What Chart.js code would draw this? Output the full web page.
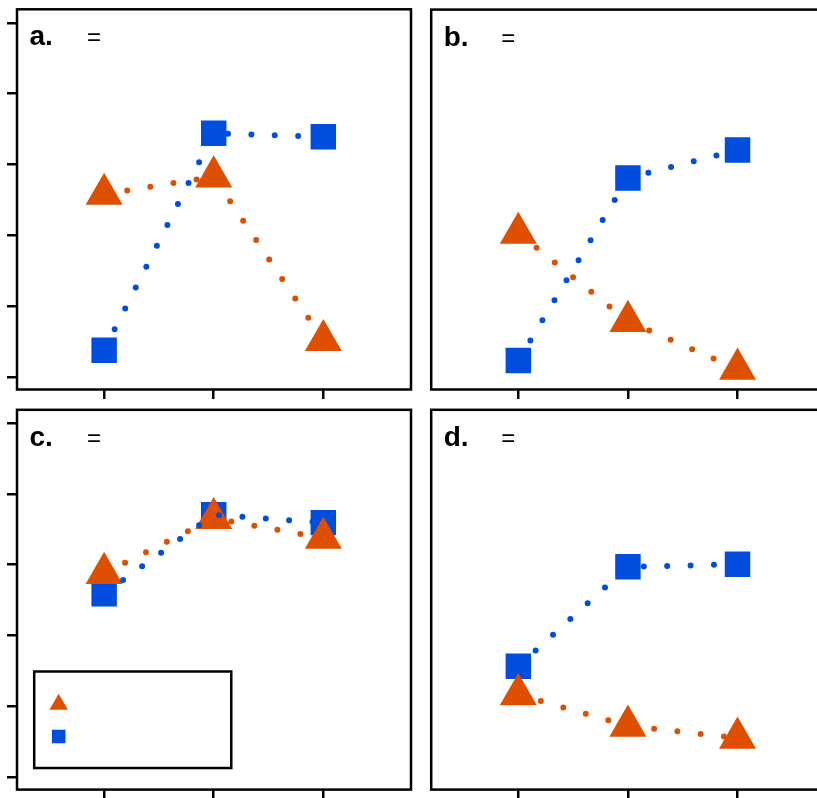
<!DOCTYPE html>
<html>
<head>
<meta charset="utf-8">
<script src="https://cdn.jsdelivr.net/npm/chart.js@4.4.1/dist/chart.umd.min.js"></script>
<style>
  html, body { margin: 0; padding: 0; background: #fff; }
  #wrap { position: relative; width: 817px; height: 798px; overflow: hidden; background: #fff; }
  canvas { position: absolute; }
</style>
</head>
<body>
<div id="wrap">
  <canvas id="pa" width="420" height="400" style="left:0;top:0"></canvas>
  <canvas id="pb" width="420" height="400" style="left:420px;top:0"></canvas>
  <canvas id="pc" width="420" height="398" style="left:0;top:400px"></canvas>
  <canvas id="pd" width="420" height="398" style="left:420px;top:400px"></canvas>
</div>
<script>
// Three conditions on the x axis, proportions on the y axis
const categories = [1, 2, 3];
const yTicks = [0, 0.2, 0.4, 0.6, 0.8, 1.0];

// Panel values: triangles (orange) and squares (blue)
const triA = [0.516, 0.565, 0.103];
const sqA  = [0.075, 0.688, 0.678];
const triB = [0.406, 0.157, 0.022];
const sqB  = [0.046, 0.562, 0.641];
const triC = [0.576, 0.731, 0.675];
const sqC  = [0.518, 0.741, 0.719];
const triD = [0.233, 0.144, 0.110];
const sqD  = [0.313, 0.594, 0.601];

const panelLabels = ['a.', 'b.', 'c.', 'd.'];

const ORANGE = '#DE5000';
const BLUE = '#004DDE';

const toXY = vals => vals.map((v, i) => ({ x: categories[i], y: v }));

// Box around the plot region, panel letter and the "=" of the heading
const framePlugin = {
  id: 'frame',
  afterDraw(chart, args, opts) {
    const { ctx, chartArea: a } = chart;
    ctx.save();
    ctx.strokeStyle = '#000';
    ctx.lineWidth = 2.5;
    ctx.strokeRect(a.left, a.top, a.right - a.left, a.bottom - a.top);
    ctx.fillStyle = '#000';
    ctx.textBaseline = 'alphabetic';
    ctx.font = 'bold 28px "Liberation Sans", Arial, sans-serif';
    ctx.fillText(opts.label, a.left + 12.5, a.top + 36);
    ctx.font = '24px "Liberation Sans", Arial, sans-serif';
    ctx.fillText('=', a.left + 70, a.top + 36);
    if (opts.legend) {
      // boxed key in the lower left
      const lx = chart.scales.x.getPixelForValue(opts.legend.x0);
      const ly = chart.scales.y.getPixelForValue(opts.legend.y1);
      const rx = chart.scales.x.getPixelForValue(opts.legend.x1);
      const ry = chart.scales.y.getPixelForValue(opts.legend.y0);
      ctx.lineWidth = 2.5;
      ctx.strokeRect(lx, ly, rx - lx, ry - ly);
      const items = [
        { style: 'triangle', color: ORANGE, radius: 10.7 },
        { style: 'rect', color: BLUE, radius: 9.6 }
      ];
      items.forEach((it, i) => {
        ctx.fillStyle = it.color;
        Chart.helpers.drawPoint(ctx, { pointStyle: it.style, radius: it.radius, rotation: 0, borderWidth: 0 },
          lx + 24.5, ly + 33 + i * 32);
      });
    }
    ctx.restore();
  }
};

function makePanel(id, tri, sq, label, showY, padLeft, padRight, padTop, padBottom, legend) {
  const tickGrid = len => ({
    drawOnChartArea: false, drawTicks: true, tickLength: len,
    color: '#000', lineWidth: 2.5
  });
  return new Chart(document.getElementById(id), {
    type: 'line',
    data: {
      datasets: [
        { // dotted blue connector, drawn over everything
          data: toXY(sq), order: 0,
          borderColor: BLUE, borderWidth: 6, borderDash: [0, 23.4], borderCapStyle: 'round',
          pointRadius: 0, fill: false, tension: 0
        },
        { // orange triangles with their dotted connector
          data: toXY(tri), order: 1,
          borderColor: ORANGE, borderWidth: 6, borderDash: [0, 23.4], borderCapStyle: 'round',
          pointStyle: 'triangle', pointRadius: 21.4, pointBackgroundColor: ORANGE,
          pointBorderWidth: 0, fill: false, tension: 0
        },
        { // blue squares
          data: toXY(sq), order: 2, showLine: false,
          pointStyle: 'rect', pointRadius: 18, pointBackgroundColor: BLUE,
          pointBorderWidth: 0
        }
      ]
    },
    options: {
      responsive: false, animation: false, events: [],
      layout: { autoPadding: false, padding: { left: padLeft, right: padRight, top: padTop, bottom: padBottom } },
      plugins: {
        legend: { display: false }, tooltip: { enabled: false },
        frame: { label: label, legend: legend }
      },
      scales: {
        x: {
          type: 'linear', min: 0.205, max: 3.80,
          afterBuildTicks: s => { s.ticks = categories.map(v => ({ value: v })); },
          afterFit: s => { s.height = 9.5; },
          ticks: { display: false },
          grid: tickGrid(9.5),
          border: { display: false }
        },
        y: {
          min: -0.036, max: 1.038,
          afterBuildTicks: s => { s.ticks = yTicks.map(v => ({ value: v })); },
          afterFit: s => { s.width = showY ? 10 : 0; },
          ticks: { display: false },
          grid: showY ? tickGrid(10) : { display: false, drawTicks: false, tickLength: 0 },
          border: { display: false }
        }
      }
    },
    plugins: [framePlugin]
  });
}

makePanel('pa', triA, sqA, panelLabels[0], true, 7, 9, 9.3, 1);
makePanel('pb', triB, sqB, panelLabels[1], false, 11.2, 14.8, 9.6, 1);
makePanel('pc', triC, sqC, panelLabels[2], true, 7, 9, 9.8, -1.1,
  { x0: 0.362, x1: 2.16, y0: 0.025, y1: 0.298 });
makePanel('pd', triD, sqD, panelLabels[3], false, 11.2, 14.8, 9.8, -1.1);
</script>
</body>
</html>
